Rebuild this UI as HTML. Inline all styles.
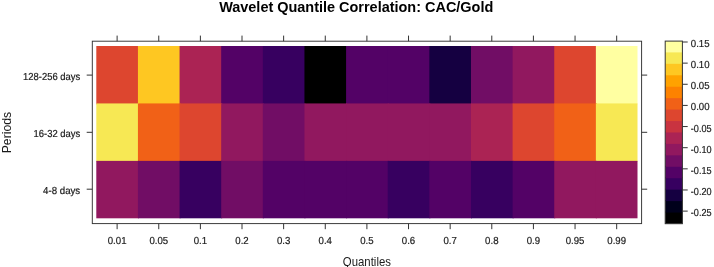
<!DOCTYPE html>
<html lang="en"><head><meta charset="utf-8"><title>Wavelet Quantile Correlation: CAC/Gold</title>
<style>
html,body{margin:0;padding:0;background:#fff;width:714px;height:267px;overflow:hidden}
svg{position:absolute;left:0;top:0;will-change:transform}
text{font-family:"Liberation Sans",Arial,Helvetica,sans-serif;fill:#1a1a1a}
.t{font-size:10.2px;text-rendering:geometricPrecision;stroke:#1a1a1a;stroke-width:0.2px}
.lab{font-size:12px}
.lab2{font-size:12.2px}
.ti{font-size:15px;font-weight:bold;fill:#000}
</style></head><body>
<svg width="714" height="267" viewBox="0 0 714 267">
<g class="heat">
<rect x="96.30" y="46.00" width="42.63" height="58.43" fill="#dd462f"/>
<rect x="137.93" y="46.00" width="42.63" height="58.43" fill="#fec722"/>
<rect x="179.56" y="46.00" width="42.63" height="58.43" fill="#ab2354"/>
<rect x="221.19" y="46.00" width="42.63" height="58.43" fill="#530266"/>
<rect x="262.82" y="46.00" width="42.63" height="58.43" fill="#370060"/>
<rect x="304.45" y="46.00" width="42.63" height="58.43" fill="#000000"/>
<rect x="346.08" y="46.00" width="42.63" height="58.43" fill="#530266"/>
<rect x="387.72" y="46.00" width="42.63" height="58.43" fill="#530266"/>
<rect x="429.35" y="46.00" width="42.63" height="58.43" fill="#150041"/>
<rect x="470.98" y="46.00" width="42.63" height="58.43" fill="#710d65"/>
<rect x="512.61" y="46.00" width="42.63" height="58.43" fill="#91185f"/>
<rect x="554.24" y="46.00" width="42.63" height="58.43" fill="#dd462f"/>
<rect x="595.87" y="46.00" width="41.63" height="58.43" fill="#ffffa1"/>
<rect x="96.30" y="103.43" width="42.63" height="58.43" fill="#f7e854"/>
<rect x="137.93" y="103.43" width="42.63" height="58.43" fill="#f16117"/>
<rect x="179.56" y="103.43" width="42.63" height="58.43" fill="#dd462f"/>
<rect x="221.19" y="103.43" width="42.63" height="58.43" fill="#91185f"/>
<rect x="262.82" y="103.43" width="42.63" height="58.43" fill="#710d65"/>
<rect x="304.45" y="103.43" width="42.63" height="58.43" fill="#91185f"/>
<rect x="346.08" y="103.43" width="42.63" height="58.43" fill="#91185f"/>
<rect x="387.72" y="103.43" width="42.63" height="58.43" fill="#91185f"/>
<rect x="429.35" y="103.43" width="42.63" height="58.43" fill="#91185f"/>
<rect x="470.98" y="103.43" width="42.63" height="58.43" fill="#ab2354"/>
<rect x="512.61" y="103.43" width="42.63" height="58.43" fill="#dd462f"/>
<rect x="554.24" y="103.43" width="42.63" height="58.43" fill="#f16117"/>
<rect x="595.87" y="103.43" width="41.63" height="58.43" fill="#f7e854"/>
<rect x="96.30" y="160.87" width="42.63" height="57.43" fill="#91185f"/>
<rect x="137.93" y="160.87" width="42.63" height="57.43" fill="#710d65"/>
<rect x="179.56" y="160.87" width="42.63" height="57.43" fill="#370060"/>
<rect x="221.19" y="160.87" width="42.63" height="57.43" fill="#710d65"/>
<rect x="262.82" y="160.87" width="42.63" height="57.43" fill="#530266"/>
<rect x="304.45" y="160.87" width="42.63" height="57.43" fill="#530266"/>
<rect x="346.08" y="160.87" width="42.63" height="57.43" fill="#530266"/>
<rect x="387.72" y="160.87" width="42.63" height="57.43" fill="#370060"/>
<rect x="429.35" y="160.87" width="42.63" height="57.43" fill="#530266"/>
<rect x="470.98" y="160.87" width="42.63" height="57.43" fill="#370060"/>
<rect x="512.61" y="160.87" width="42.63" height="57.43" fill="#530266"/>
<rect x="554.24" y="160.87" width="42.63" height="57.43" fill="#91185f"/>
<rect x="595.87" y="160.87" width="41.63" height="57.43" fill="#91185f"/>
<rect x="92.3" y="41.2" width="549.30" height="182.40" fill="none" stroke="#333" stroke-width="0.95"/>
<rect x="665.2" y="211.56" width="17.20" height="12.14" fill="#000000"/>
<rect x="665.2" y="200.12" width="17.20" height="12.44" fill="#00001b"/>
<rect x="665.2" y="188.68" width="17.20" height="12.44" fill="#150041"/>
<rect x="665.2" y="177.24" width="17.20" height="12.44" fill="#370060"/>
<rect x="665.2" y="165.80" width="17.20" height="12.44" fill="#530266"/>
<rect x="665.2" y="154.36" width="17.20" height="12.44" fill="#710d65"/>
<rect x="665.2" y="142.92" width="17.20" height="12.44" fill="#91185f"/>
<rect x="665.2" y="131.48" width="17.20" height="12.44" fill="#ab2354"/>
<rect x="665.2" y="120.04" width="17.20" height="12.44" fill="#c93340"/>
<rect x="665.2" y="108.60" width="17.20" height="12.44" fill="#dd462f"/>
<rect x="665.2" y="97.16" width="17.20" height="12.44" fill="#f16117"/>
<rect x="665.2" y="85.72" width="17.20" height="12.44" fill="#fd8200"/>
<rect x="665.2" y="74.28" width="17.20" height="12.44" fill="#ffa200"/>
<rect x="665.2" y="62.84" width="17.20" height="12.44" fill="#fec722"/>
<rect x="665.2" y="51.40" width="17.20" height="12.44" fill="#f7e854"/>
<rect x="665.2" y="41.10" width="17.20" height="11.30" fill="#ffffa1"/>
<rect x="665.2" y="41.1" width="17.20" height="182.60" fill="none" stroke="#333"/>
<path d="M117.12 41.2v-5.6M117.12 223.6v5.6M158.75 41.2v-5.6M158.75 223.6v5.6M200.38 41.2v-5.6M200.38 223.6v5.6M242.01 41.2v-5.6M242.01 223.6v5.6M283.64 41.2v-5.6M283.64 223.6v5.6M325.27 41.2v-5.6M325.27 223.6v5.6M366.90 41.2v-5.6M366.90 223.6v5.6M408.53 41.2v-5.6M408.53 223.6v5.6M450.16 41.2v-5.6M450.16 223.6v5.6M491.79 41.2v-5.6M491.79 223.6v5.6M533.42 41.2v-5.6M533.42 223.6v5.6M575.05 41.2v-5.6M575.05 223.6v5.6M616.68 41.2v-5.6M616.68 223.6v5.6M92.3 75.10h-5.6M641.6 75.10h5.6M92.3 132.30h-5.6M641.6 132.30h5.6M92.3 189.20h-5.6M641.6 189.20h5.6M682.4 42.00h5.3M682.4 63.14h5.3M682.4 84.28h5.3M682.4 105.42h5.3M682.4 126.56h5.3M682.4 147.70h5.3M682.4 168.84h5.3M682.4 189.98h5.3M682.4 211.12h5.3" fill="none" stroke="#333" stroke-width="1"/>
</g>
<g class="labels">
<text transform="translate(117.12,243.7) scale(0.945,1)" text-anchor="middle" class="t">0.01</text>
<text transform="translate(158.75,243.7) scale(0.945,1)" text-anchor="middle" class="t">0.05</text>
<text transform="translate(200.38,243.7) scale(0.945,1)" text-anchor="middle" class="t">0.1</text>
<text transform="translate(242.01,243.7) scale(0.945,1)" text-anchor="middle" class="t">0.2</text>
<text transform="translate(283.64,243.7) scale(0.945,1)" text-anchor="middle" class="t">0.3</text>
<text transform="translate(325.27,243.7) scale(0.945,1)" text-anchor="middle" class="t">0.4</text>
<text transform="translate(366.90,243.7) scale(0.945,1)" text-anchor="middle" class="t">0.5</text>
<text transform="translate(408.53,243.7) scale(0.945,1)" text-anchor="middle" class="t">0.6</text>
<text transform="translate(450.16,243.7) scale(0.945,1)" text-anchor="middle" class="t">0.7</text>
<text transform="translate(491.79,243.7) scale(0.945,1)" text-anchor="middle" class="t">0.8</text>
<text transform="translate(533.42,243.7) scale(0.945,1)" text-anchor="middle" class="t">0.9</text>
<text transform="translate(575.05,243.7) scale(0.945,1)" text-anchor="middle" class="t">0.95</text>
<text transform="translate(616.68,243.7) scale(0.945,1)" text-anchor="middle" class="t">0.99</text>
<text transform="translate(80.2,79.7) scale(0.925,1)" text-anchor="end" class="t">128-256 days</text>
<text transform="translate(80.2,136.5) scale(0.925,1)" text-anchor="end" class="t">16-32 days</text>
<text transform="translate(80.2,193.9) scale(0.95,1)" text-anchor="end" class="t">4-8 days</text>
<text transform="translate(690.8,46.95) scale(0.945,1)" class="t">0.15</text>
<text transform="translate(690.8,68.09) scale(0.945,1)" class="t">0.10</text>
<text transform="translate(690.8,89.23) scale(0.945,1)" class="t">0.05</text>
<text transform="translate(690.8,110.37) scale(0.945,1)" class="t">0.00</text>
<text transform="translate(690.8,131.51) scale(0.895,1)" class="t">-0.05</text>
<text transform="translate(690.8,152.65) scale(0.895,1)" class="t">-0.10</text>
<text transform="translate(690.8,173.79) scale(0.895,1)" class="t">-0.15</text>
<text transform="translate(690.8,194.93) scale(0.895,1)" class="t">-0.20</text>
<text transform="translate(690.8,216.07) scale(0.895,1)" class="t">-0.25</text>
<text transform="translate(356.2,11.8) scale(0.965,1)" text-anchor="middle" class="ti">Wavelet Quantile Correlation: CAC/Gold</text>
<text transform="translate(366.9,265.6) scale(0.95,1)" text-anchor="middle" class="lab">Quantiles</text>
<text transform="translate(11.1,132.6) rotate(-90)" text-anchor="middle" class="lab2">Periods</text>
</g>
</svg>
</body></html>
